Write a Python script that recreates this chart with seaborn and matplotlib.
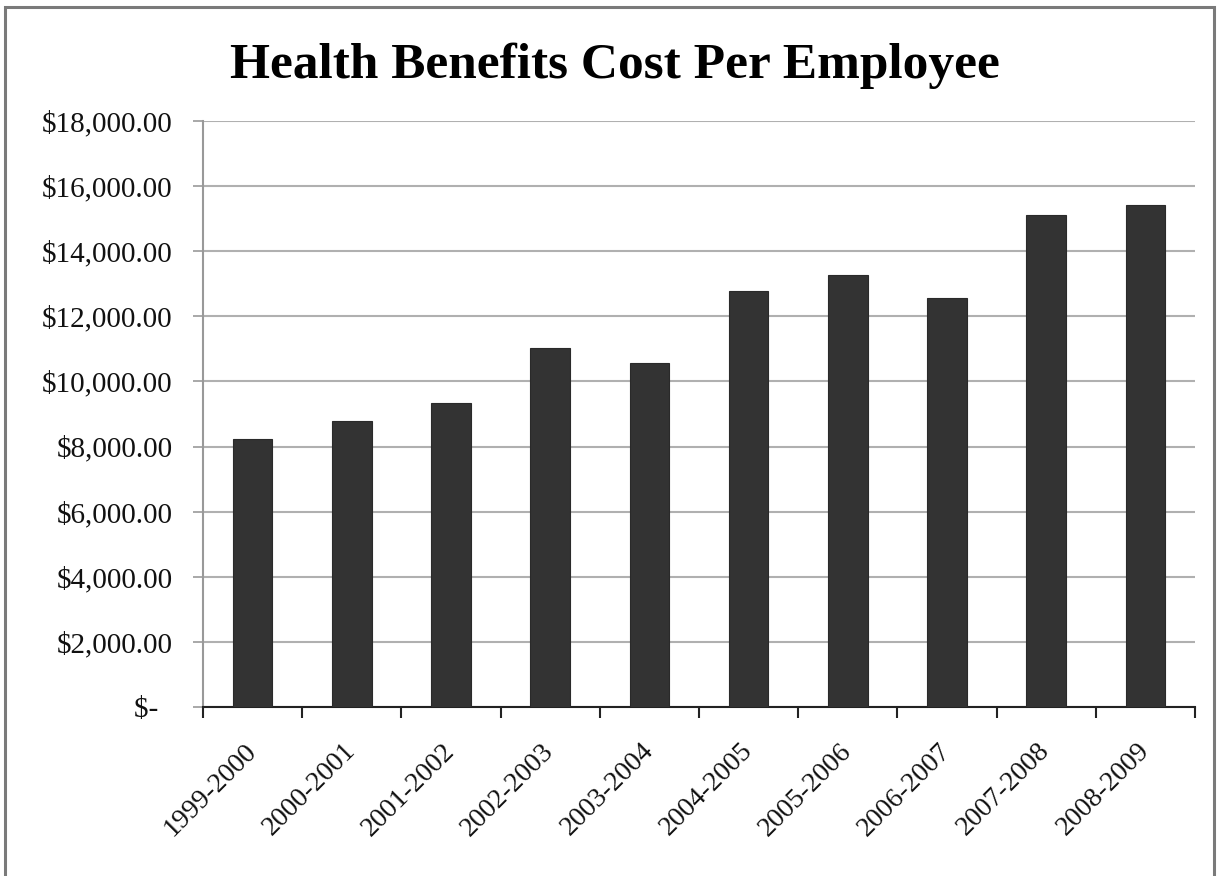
import matplotlib
matplotlib.use("Agg")
import matplotlib.pyplot as plt
from matplotlib.patches import Rectangle
from matplotlib.ticker import FixedLocator, FuncFormatter
import seaborn as sns
import pandas as pd

years = ["1999-2000", "2000-2001", "2001-2002", "2002-2003", "2003-2004",
         "2004-2005", "2005-2006", "2006-2007", "2007-2008", "2008-2009"]
cost = [8240, 8770, 9345, 11025, 10575, 12770, 13270, 12575, 15115, 15425]
y_ticks = [0, 2000, 4000, 6000, 8000, 10000, 12000, 14000, 16000, 18000]
title = "Health Benefits Cost Per Employee"

df = pd.DataFrame({"year": years, "cost": cost})

sns.set_style("white")
plt.rcParams["font.family"] = ["Liberation Serif", "DejaVu Serif"]

fig = plt.figure(figsize=(12.17, 8.76), dpi=100)
ax = fig.add_axes([203 / 1217, 1 - 707 / 876, (1195 - 203) / 1217, (707 - 121) / 876])

sns.barplot(data=df, x="year", y="cost", color="#333333", width=0.4,
            saturation=1, edgecolor="#2a2a2a", linewidth=0.8, ax=ax, zorder=3)

ax.set_xlim(-0.5, len(years) - 0.5)
ax.set_ylim(0, 18000)
ax.set_yticks(y_ticks)

def fmt(v, pos):
    if v == 0:
        return "$-  "
    return "${:,.2f}".format(v)

ax.yaxis.set_major_formatter(FuncFormatter(fmt))
ax.yaxis.grid(True, color="#b0b0b0", linewidth=1.5, zorder=0)
ax.set_axisbelow(True)

ax.set_xlabel("")
ax.set_ylabel("")
ax.tick_params(axis="y", which="major", length=7, width=1.2, color="#999999",
               labelsize=21, pad=15, left=True, labelcolor="#111111")
ax.tick_params(axis="x", which="major", length=0, labelsize=20, pad=29,
               labelcolor="#111111")
ax.xaxis.set_minor_locator(FixedLocator([i - 0.5 for i in range(len(years) + 1)]))
ax.tick_params(axis="x", which="minor", length=8, width=1.5, color="#222222",
               bottom=True)
plt.setp(ax.get_xticklabels(), rotation=45, ha="right", va="center",
         rotation_mode="anchor")

for side in ["top", "right"]:
    ax.spines[side].set_visible(False)
ax.spines["left"].set_color("#999999")
ax.spines["left"].set_linewidth(1.5)
ax.spines["bottom"].set_color("#222222")
ax.spines["bottom"].set_linewidth(1.5)

fig.text(615 / 1217, 1 - 78 / 876, title, ha="center", va="baseline",
         fontsize=37, fontweight="bold", color="#000000")

fig.patches.append(Rectangle((5 / 1217, -0.05), (1214 - 5) / 1217, 1.05 - 7 / 876,
                             transform=fig.transFigure, fill=False,
                             edgecolor="#7a7a7a", linewidth=2.2))

fig.savefig("out.png", dpi=100, facecolor="white")
